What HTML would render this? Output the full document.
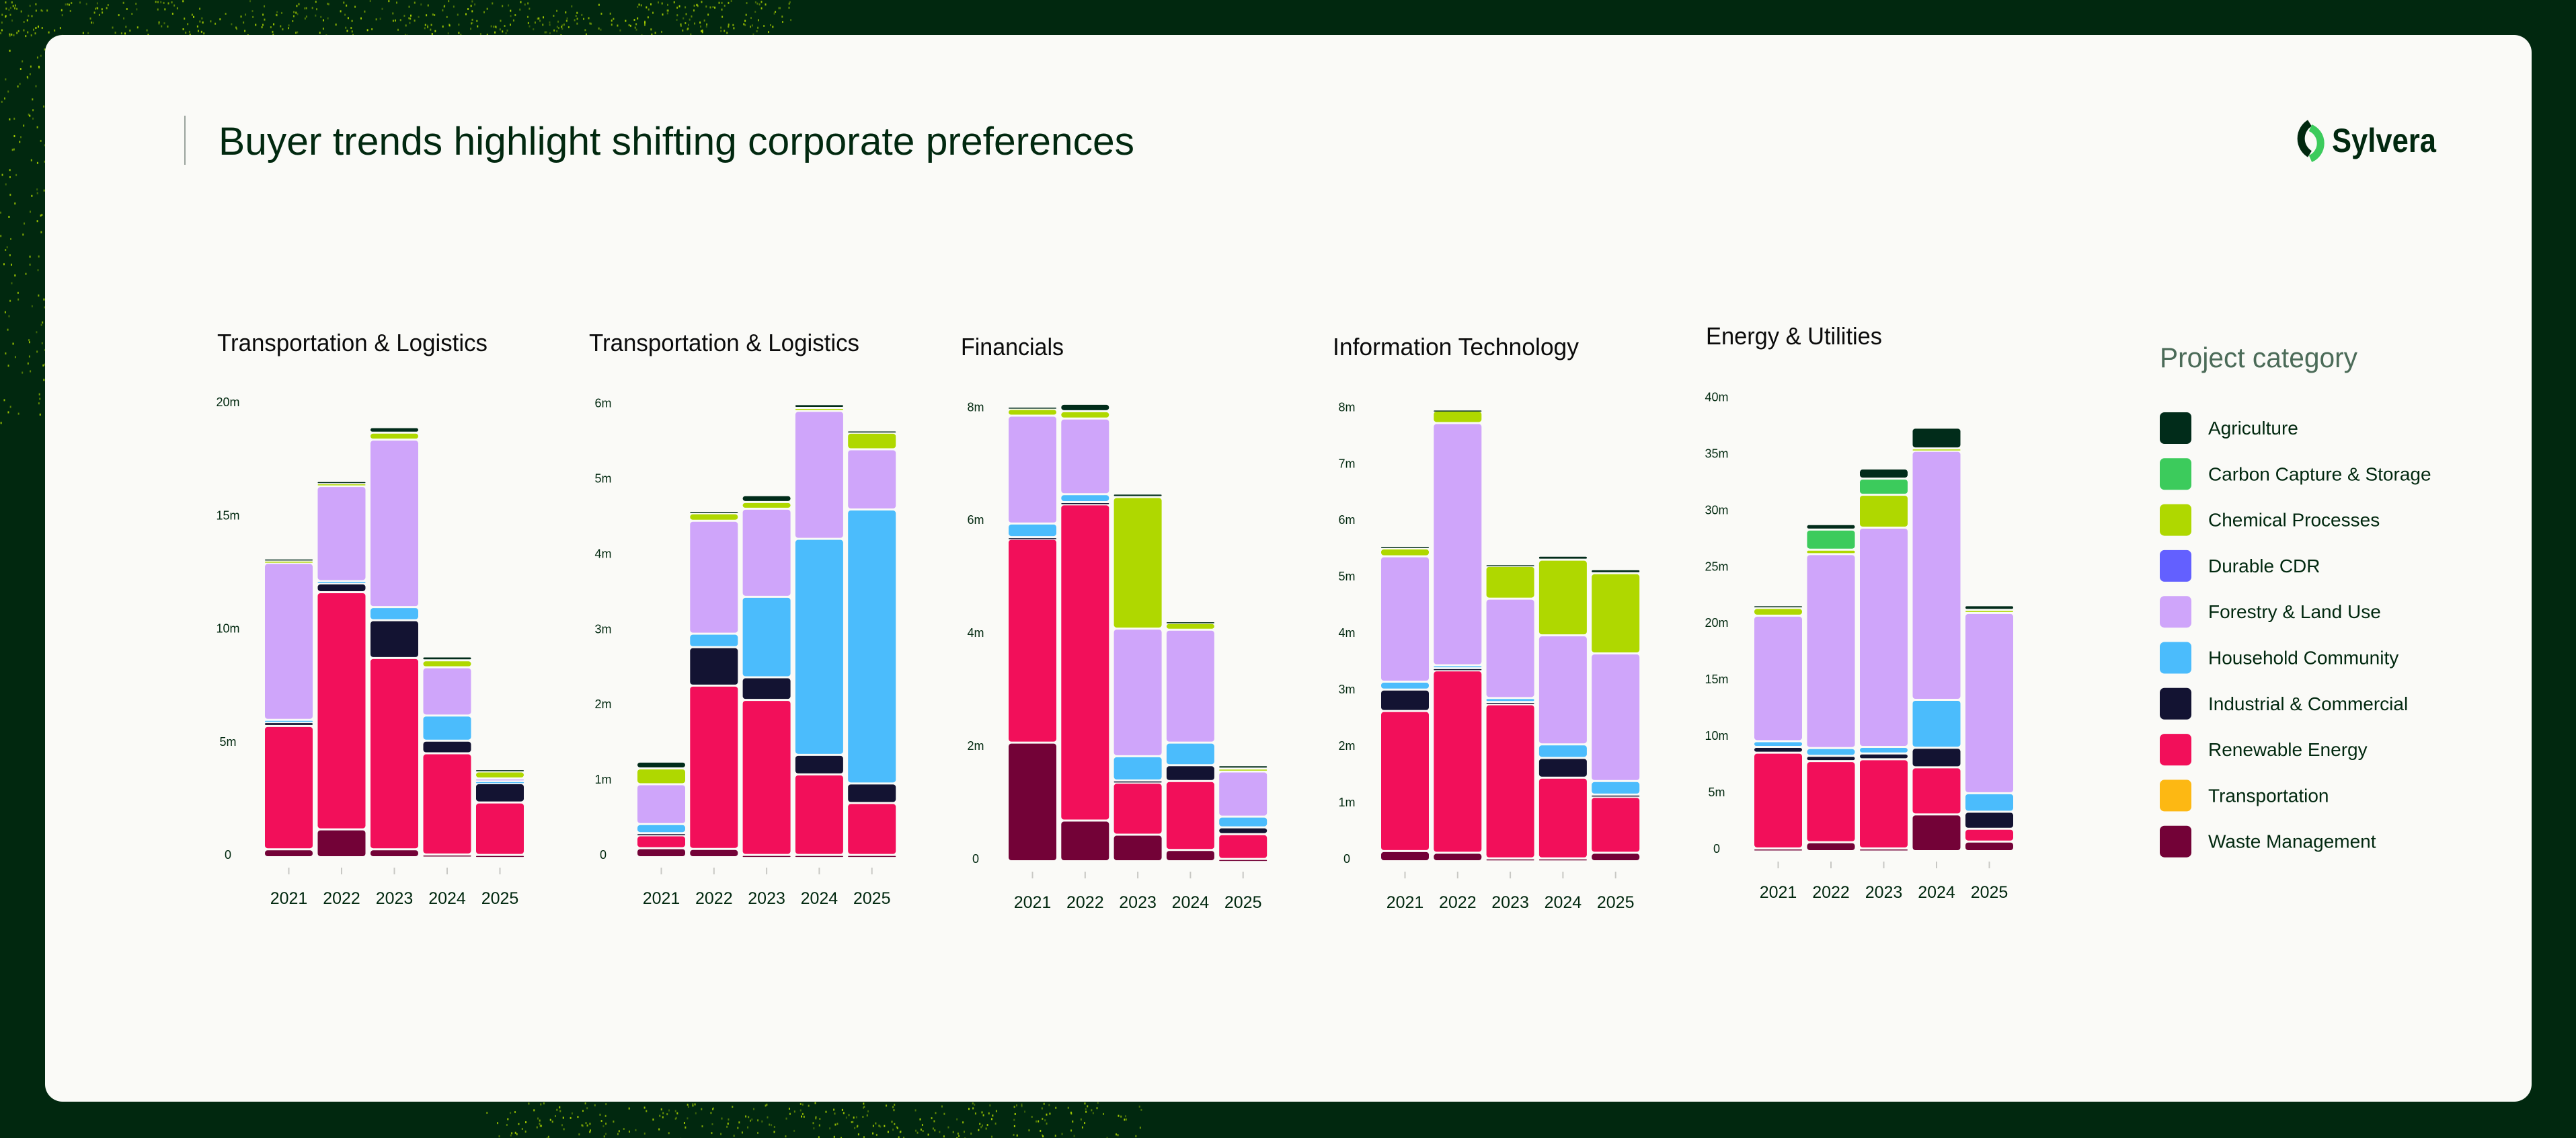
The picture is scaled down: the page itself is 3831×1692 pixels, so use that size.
<!DOCTYPE html>
<html><head><meta charset="utf-8"><style>
html,body{margin:0;padding:0;background:#01280f;}
svg{display:block;font-family:"Liberation Sans",sans-serif;}
</style></head><body>
<svg id="root" width="3831" height="1692" viewBox="0 0 3831 1692" xmlns="http://www.w3.org/2000/svg">
<rect x="0" y="0" width="3831" height="1692" fill="#01280f"/>
<g id="speckles"></g>
<rect x="67" y="52" width="3698" height="1586" rx="26" fill="#fafaf7"/>
<line x1="275" y1="172" x2="275" y2="245" stroke="#9aa39d" stroke-width="2"/>
<text x="325" y="230" font-size="58" fill="#01280f" textLength="1362" lengthAdjust="spacingAndGlyphs">Buyer trends highlight shifting corporate preferences</text>
<g>
<path d="M3435 183 A27 27 0 0 0 3435 229" fill="none" stroke="#01280f" stroke-width="11"/>
<path d="M3436 190 A25 25 0 0 1 3436 236" fill="none" stroke="#3ccb5c" stroke-width="11"/>
<text x="3468" y="226" font-size="50" font-weight="bold" fill="#01280f" textLength="155" lengthAdjust="spacingAndGlyphs">Sylvera</text>
</g>
<g id="charts"></g>
<g id="legend"></g>
</svg>
<script>
const NS="http://www.w3.org/2000/svg";
const years=["2021","2022","2023","2024","2025"];
const catNames=["Agriculture","Carbon Capture & Storage","Chemical Processes","Durable CDR","Forestry & Land Use","Household Community","Industrial & Commercial","Renewable Energy","Transportation","Waste Management"];
const catColors=["#012c1a","#3ccb5c","#afd800","#6360ff","#cfa5fa","#4bbcfc","#131332","#f20f5a","#fdb813","#730237"];
const stackOrder=[9,8,7,6,5,4,3,2,1,0];

const c1Ticks=["0","5m","10m","15m","20m"];
const c1TickVals=[0,5,10,15,20];
const c1Waste=[0.35,1.23,0.35,0.12,0.1];
const c1Renew=[5.45,10.48,8.45,4.47,2.32];
const c1Indust=[0.17,0.39,1.67,0.56,0.85];
const c1House=[0.1,0.1,0.58,1.11,0.09];
const c1Forest=[6.93,4.2,7.4,2.13,0.12];
const c1Chem=[0.1,0.12,0.31,0.31,0.31];
const c1CCS=[0,0,0,0,0];
const c1Agri=[0.1,0.1,0.24,0.17,0.1];

const c2Ticks=["0","1m","2m","3m","4m","5m","6m"];
const c2TickVals=[0,1,2,3,4,5,6];
const c2Waste=[0.12,0.11,0.03,0.03,0.03];
const c2Renew=[0.17,2.17,2.06,1.07,0.69];
const c2Indust=[0.03,0.51,0.3,0.26,0.26];
const c2House=[0.12,0.18,1.07,2.87,3.64];
const c2Forest=[0.53,1.5,1.17,1.7,0.8];
const c2Chem=[0.21,0.1,0.09,0.04,0.22];
const c2CCS=[0,0,0,0,0];
const c2Agri=[0.09,0.03,0.09,0.05,0.03];

const c3Ticks=["0","2m","4m","6m","8m"];
const c3TickVals=[0,2,4,6,8];
const c3Waste=[2.1,0.72,0.47,0.2,0.04];
const c3Renew=[3.61,5.6,0.92,1.22,0.44];
const c3Indust=[0.03,0.04,0.04,0.28,0.12];
const c3House=[0.24,0.14,0.43,0.4,0.19];
const c3Forest=[1.91,1.34,2.26,2.0,0.8];
const c3Chem=[0.12,0.13,2.33,0.12,0.05];
const c3CCS=[0,0,0,0,0];
const c3Agri=[0.04,0.13,0.06,0.03,0.06];

const c4Ticks=["0","1m","2m","3m","4m","5m","6m","7m","8m"];
const c4TickVals=[0,1,2,3,4,5,6,7,8];
const c4Waste=[0.18,0.15,0.05,0.05,0.15];
const c4Renew=[2.48,3.23,2.73,1.43,0.99];
const c4Indust=[0.38,0.04,0.04,0.35,0.04];
const c4House=[0.14,0.05,0.07,0.24,0.24];
const c4Forest=[2.22,4.29,1.76,1.93,2.26];
const c4Chem=[0.14,0.22,0.58,1.34,1.42];
const c4CCS=[0,0,0,0,0];
const c4Agri=[0.04,0.02,0.03,0.07,0.07];

const c5Ticks=["0","5m","10m","15m","20m","25m","30m","35m","40m"];
const c5TickVals=[0,5,10,15,20,25,30,35,40];
const c5Waste=[0.24,0.79,0.24,3.25,0.85];
const c5Renew=[8.48,7.18,7.9,4.17,1.13];
const c5Indust=[0.51,0.47,0.51,1.74,1.51];
const c5House=[0.51,0.69,0.58,4.24,1.64];
const c5Forest=[11.11,17.17,19.42,22.05,15.96];
const c5Chem=[0.69,0.4,2.91,0.21,0.28];
const c5CCS=[0,1.78,1.43,0,0];
const c5Agri=[0.24,0.48,0.89,1.84,0.41];

const zeros=[0,0,0,0,0];
function series(w,r,i,h,f,c,s,a){return [a,s,c,zeros,f,h,i,r,zeros,w];}
const charts=[
 {title:"Transportation & Logistics",tx:323,ty:522,tw:402,ticks:c1Ticks,tv:c1TickVals,data:series(c1Waste,c1Renew,c1Indust,c1House,c1Forest,c1Chem,c1CCS,c1Agri),base:1276,k:33.65,labX:339,bx0:394,pitch:78.5,bw:71},
 {title:"Transportation & Logistics",tx:876,ty:522,tw:402,ticks:c2Ticks,tv:c2TickVals,data:series(c2Waste,c2Renew,c2Indust,c2House,c2Forest,c2Chem,c2CCS,c2Agri),base:1276,k:111.9,labX:897,bx0:948,pitch:78.3,bw:71},
 {title:"Financials",tx:1429,ty:528,tw:153,ticks:c3Ticks,tv:c3TickVals,data:series(c3Waste,c3Renew,c3Indust,c3House,c3Forest,c3Chem,c3CCS,c3Agri),base:1282,k:83.96,labX:1451,bx0:1500,pitch:78.3,bw:71},
 {title:"Information Technology",tx:1982,ty:528,tw:366,ticks:c4Ticks,tv:c4TickVals,data:series(c4Waste,c4Renew,c4Indust,c4House,c4Forest,c4Chem,c4CCS,c4Agri),base:1282,k:83.96,labX:2003,bx0:2054,pitch:78.3,bw:71},
 {title:"Energy & Utilities",tx:2537,ty:512,tw:262,ticks:c5Ticks,tv:c5TickVals,data:series(c5Waste,c5Renew,c5Indust,c5House,c5Forest,c5Chem,c5CCS,c5Agri),base:1267,k:16.79,labX:2553,bx0:2609,pitch:78.5,bw:71}
];
const root=document.getElementById('charts');
function mk(tag,attrs,parent){const e=document.createElementNS(NS,tag);for(const k in attrs)e.setAttribute(k,attrs[k]);parent.appendChild(e);return e;}
charts.forEach((c,ci)=>{
  const g=mk('g',{},root);
  
  
  const yS=v=>c.base-v*c.k;
  const t=mk('text',{x:c.tx,y:c.ty,'font-size':36,fill:'#0b0b0b',textLength:c.tw,lengthAdjust:'spacingAndGlyphs'},g);
  t.textContent=c.title;
  
  
  c.tv.forEach((v,i)=>{
    const tl=mk('text',{x:c.labX,y:yS(v)+1,'font-size':18,fill:'#01280f','text-anchor':'middle'},g);
    tl.textContent=c.ticks[i];
    
    
  });
  years.forEach((yr,yi)=>{
    const x=c.bx0+yi*c.pitch;
    let cum=0;
    stackOrder.forEach(cat=>{
      const v=c.data[cat][yi];
      if(!v)return;
      const y1=yS(cum), y2=yS(cum+v);
      cum+=v;
      const h=Math.max(1.5,y1-y2-3);
      const r=mk('rect',{x:x,y:y2,width:c.bw,height:h,rx:Math.min(4,h/2),fill:catColors[cat]},g);
      
      
    });
    const tk=mk('line',{x1:x+c.bw/2,x2:x+c.bw/2,y1:c.base+14,y2:c.base+24,stroke:'#c8c8c4','stroke-width':2},g);
    
    
    const yl=mk('text',{x:x+c.bw/2,y:c.base+68,'font-size':25,fill:'#01280f','text-anchor':'middle'},g);
    yl.textContent=yr;
    
    
  });
});
const lg=document.getElementById('legend');
const lt=mk('text',{x:3212,y:546,'font-size':42,fill:'#4b6b58',textLength:294,lengthAdjust:'spacingAndGlyphs'},lg);
lt.textContent="Project category";


catNames.forEach((n,i)=>{
  const cy=636+i*68.3;
  const s=mk('rect',{x:3212,y:cy-23,width:47,height:47,rx:7,fill:catColors[i]},lg);
  
  
  const tx=mk('text',{x:3284,y:cy+10,'font-size':28,fill:'#01280f'},lg);
  tx.textContent=n;
  
  
});
let seed=7;function rnd(){seed=(seed*16807)%2147483647;return seed/2147483647;}
const sp=document.getElementById('speckles');
function dots(x0,x1,y0,y1,n){for(let i=0;i<n;i++){mk('rect',{x:x0+rnd()*(x1-x0),y:y0+rnd()*(y1-y0),width:2,height:3,fill:'#b7e000',opacity:0.3+rnd()*0.6},sp);}}
dots(0,1180,0,52,450);
dots(0,67,0,640,120);
dots(720,1700,1638,1692,300);
</script>
</body></html>
